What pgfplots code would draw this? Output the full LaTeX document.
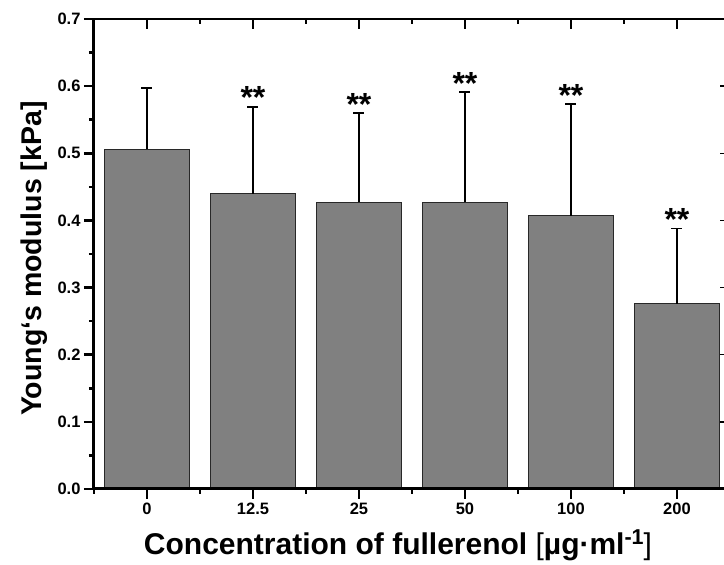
\documentclass[border=0pt]{standalone}
\usepackage{fontspec}
\setmainfont{Liberation Sans}[Ligatures=ResetAll]
\usepackage{pgfplots}
\pgfplotsset{compat=1.18}
\usetikzlibrary{calc}
\definecolor{barfill}{RGB}{128,128,128}
\definecolor{baredge}{RGB}{40,40,40}
\begin{document}
\begin{tikzpicture}
\pgfplotsset{
  common/.style={
    width=636pt, height=470pt, scale only axis,
    xmin=-0.5, xmax=5.5, ymin=0, ymax=0.7,
    xtick={0,1,2,3,4,5},
    minor xtick={-0.5,0.5,1.5,2.5,3.5,4.5,5.5},
    ytick={0,0.1,0.2,0.3,0.4,0.5,0.6,0.7},
    minor ytick={0.05,0.15,0.25,0.35,0.45,0.55,0.65},
    clip=false,
  }
}
\begin{axis}[common,
  axis on top,
  axis x line*=bottom, axis y line*=left,
  axis line style={line width=3pt, -},
  every outer x axis line/.append style={-},
  every outer y axis line/.append style={-},
  tick align=outside,
  major tick length=10pt, minor tick length=5pt,
  every tick/.style={black, line width=2.5pt},
  xticklabels={0,12.5,25,50,100,200},
  yticklabel style={/pgf/number format/.cd, fixed, fixed zerofill, precision=1},
  /pgf/number format/assume math mode=true,
  ticklabel style={font=\bfseries\fontsize{16.5}{16.5}\selectfont},
  ylabel={Young`s modulus [kPa]},
  every axis y label/.style={at={(axis description cs:-0.0723,0.49)}, rotate=90, anchor=south, inner sep=0pt, font=\bfseries\fontsize{28.5}{28.5}\selectfont},
  xlabel={Concentration of fullerenol {\mdseries[}µg·ml\raisebox{10pt}{\fontsize{21.5}{21.5}\selectfont -1}{\mdseries]}},
  every axis x label/.style={at={(axis description cs:0.478,-0.1404)}, anchor=base, inner sep=0pt, font=\bfseries\fontsize{30}{30}\selectfont},
]
\addplot[ybar, bar width=0.8, fill=barfill, draw=baredge, line width=0.8pt,
  error bars/.cd, y dir=plus, y explicit,
  error bar style={line width=1.6pt, black},
  error mark options={rotate=90, mark size=5.5pt, line width=1.6pt, black}]
coordinates {
(0,0.506) +- (0,0.091)
(1,0.440) +- (0,0.129)
(2,0.427) +- (0,0.133)
(3,0.427) +- (0,0.164)
(4,0.407) +- (0,0.166)
(5,0.276) +- (0,0.112)
};
\addplot[draw=none, mark=none, nodes near coords, point meta=explicit symbolic,
  every node near coord/.style={anchor=base, yshift=-2pt, inner sep=0pt, text=black, font=\bfseries\fontsize{32}{32}\selectfont}]
coordinates {
(1,0.569) [**]
(2,0.560) [**]
(3,0.591) [**]
(4,0.573) [**]
(5,0.388) [**]
};
\end{axis}
\begin{axis}[common,
  axis x line*=top, axis y line*=right,
  axis line style={line width=1.3pt, -},
  every outer x axis line/.append style={-},
  every outer y axis line/.append style={-},
  tick align=inside,
  major tick length=10pt, minor tick length=5pt,
  every tick/.style={black, line width=1.3pt},
  xticklabels={}, yticklabels={},
]
\end{axis}
\pgfresetboundingbox
\path[use as bounding box] ($(current axis.south west)+(-94pt,-76pt)$) rectangle ($(current axis.south west)+(630pt,489pt)$);
\end{tikzpicture}
\end{document}
